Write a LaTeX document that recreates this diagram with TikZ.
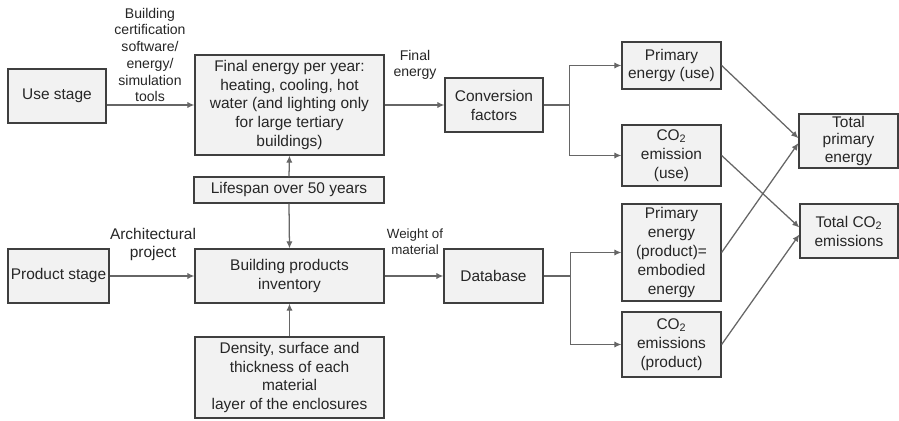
\documentclass[tikz,border=0pt]{standalone}
\usepackage{fontspec}
\setmainfont{Liberation Sans}
\usetikzlibrary{arrows.meta, shadows}
\definecolor{cedge}{HTML}{3F3F3F}
\definecolor{cfill}{HTML}{F2F2F2}
\definecolor{cline}{HTML}{666666}
\definecolor{ctext}{HTML}{262626}
\tikzset{
  every picture/.style={font=\fontsize{11}{13.5}\selectfont, line width=0.9pt},
  box/.style={draw=cedge, fill=cfill, text=ctext, align=center, inner sep=1pt,
    drop shadow={shadow xshift=1pt, shadow yshift=-1pt, fill=black!35, opacity=0.5}},
  arrow/.style={-{Latex[length=5pt, width=4.5pt]}, draw=cline},
  link/.style={draw=cline},
  note/.style={font=\fontsize{10}{11.9}\selectfont, text=ctext, align=center},
}

\begin{document}
\begin{tikzpicture}
  \useasboundingbox (0,0) rectangle (22.475,10.5);
  % ---- use stage row
  \node[box, minimum width=2.45cm, minimum height=1.35cm] (use) at (1.425,8.1) {Use stage};
  \node[box, minimum width=4.725cm, minimum height=2.5cm] (final) at (7.2375,7.875) {Final energy per year:\\heating, cooling, hot\\water (and lighting only\\for large tertiary\\buildings)};
  \node[box, minimum width=4.75cm, minimum height=0.65cm] (life) at (7.225,5.75) {Lifespan over 50 years};
  \node[box, minimum width=2.45cm, minimum height=1.35cm] (conv) at (12.35,7.875) {Conversion\\factors};
  \node[box, minimum width=2.475cm, minimum height=1.175cm] (peuse) at (16.7875,8.8625) {Primary\\energy (use)};
  \node[box, minimum width=2.475cm, minimum height=1.525cm] (co2use) at (16.7875,6.6125) {CO\textsubscript{2}\\emission\\(use)};
  \node[box, minimum width=2.475cm, minimum height=1.35cm, font=\fontsize{11}{12.5}\selectfont] (totpe) at (21.2125,6.975) {Total\\primary\\energy};
  % ---- product stage row
  \node[box, minimum width=2.525cm, minimum height=1.35cm] (prod) at (1.4625,3.6) {Product stage};
  \node[box, minimum width=4.725cm, minimum height=1.35cm] (bpi) at (7.2375,3.6) {Building products\\inventory};
  \node[box, minimum width=4.725cm, minimum height=2.025cm] (dens) at (7.2375,1.0625) {Density, surface and\\thickness of each\\material\\layer of the enclosures};
  \node[box, minimum width=2.475cm, minimum height=1.35cm] (db) at (12.3375,3.6) {Database};
  \node[box, minimum width=2.475cm, minimum height=2.425cm, inner ysep=0pt] (peprod) at (16.7875,4.1875) {Primary\\energy\\(product)=\\embodied\\energy};
  \node[box, minimum width=2.475cm, minimum height=1.625cm] (co2prod) at (16.7875,1.8875) {CO\textsubscript{2}\\emissions\\(product)};
  \node[box, minimum width=2.45cm, minimum height=1.35cm] (totco2) at (21.225,4.725) {Total CO\textsubscript{2}\\emissions};
  % ---- labels
  \node[note] (lbltools) at (3.75,9.125) {Building\\certification\\software/\\energy/\\simulation\\tools};
  \node[note] (lblfinal) at (10.375,8.875) {Final\\energy};
  \node[note, font=\fontsize{11}{13.5}\selectfont] (lblarch) at (3.825,4.3875) {Architectural\\project};
  \node[note, font=\fontsize{9.5}{11.5}\selectfont] (lblweight) at (10.375,4.4625) {Weight of\\material};
  % ---- connectors
  \draw[arrow] (use.east |- final.west) -- (final.west);
  \draw[arrow] (final.east) -- (conv.west);
  \draw[arrow] (life.north) -- (final.south);
  \draw[arrow] (life.south) -- (bpi.north);
  \draw[link] (conv.east) -- ++(0.65,0) coordinate (convfork);
  \draw[arrow] (convfork) |- (peuse.west);
  \draw[arrow] (convfork) |- (co2use.west);
  \draw[arrow] (prod.east) -- (bpi.west);
  \draw[arrow] (dens.north) -- (bpi.south);
  \draw[arrow] (bpi.east) -- (db.west);
  \draw[link] (db.east) -- ++(0.675,0) coordinate (dbfork);
  \draw[arrow] (dbfork) |- (peprod.west);
  \draw[arrow] (dbfork) |- (co2prod.west);
  \draw[arrow] (peuse.east) -- ([yshift=2pt]totpe.west);
  \draw[arrow] (peprod.east) -- ([yshift=-1.5pt]totpe.west);
  \draw[arrow] (co2use.east) -- ([yshift=2.5pt]totco2.west);
  \draw[arrow] (co2prod.east) -- ([yshift=-2.5pt]totco2.west);
\end{tikzpicture}
\end{document}
